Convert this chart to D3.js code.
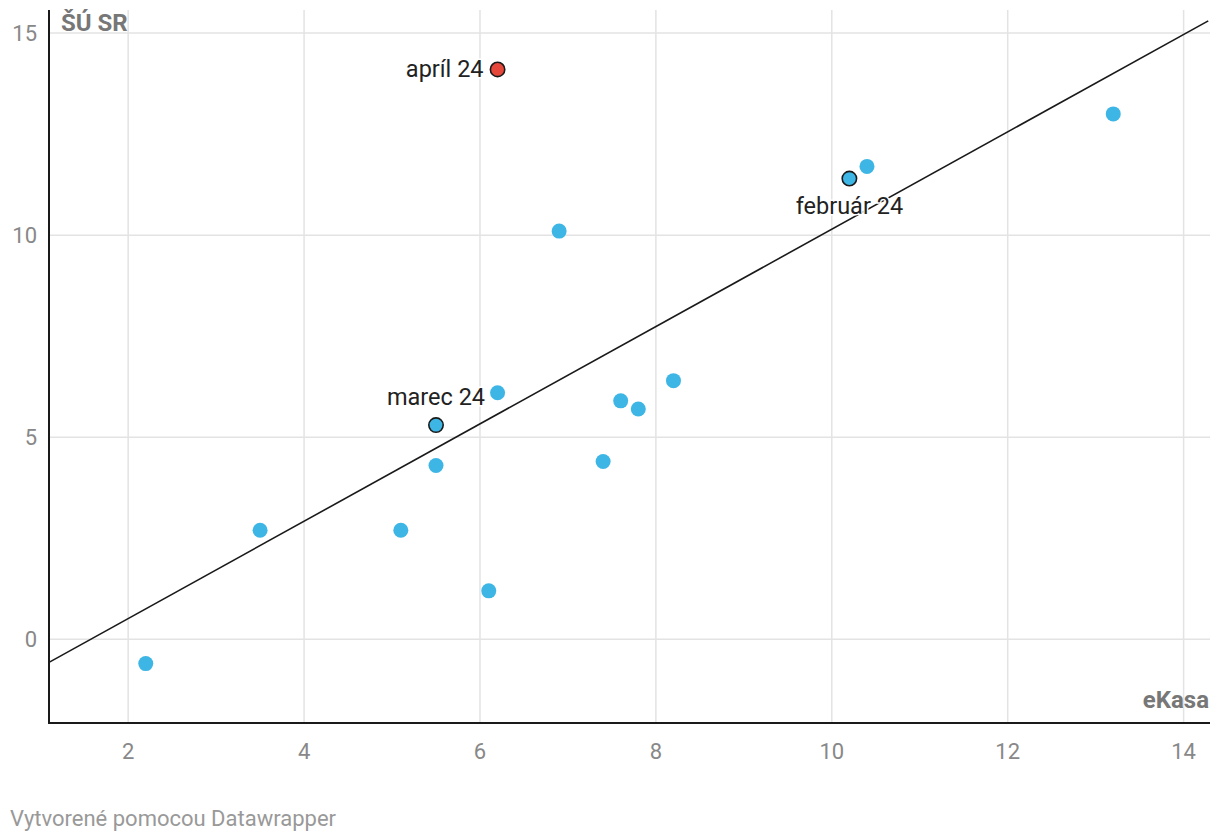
<!DOCTYPE html>
<html><head><meta charset="utf-8">
<script src="https://cdn.jsdelivr.net/npm/d3@7"></script>
<style>
body{margin:0;background:#fff;font-family:Roboto,sans-serif;}
</style></head>
<body><svg id="c" width="1220" height="840"></svg>
<script>
const xVals = [2.2, 3.5, 5.1, 5.5, 5.5, 6.1, 6.2, 6.2, 6.9, 7.4, 7.6, 7.8, 8.2, 10.2, 10.4, 13.2];
const yVals = [-0.6, 2.7, 2.7, 4.3, 5.3, 1.2, 6.1, 14.1, 10.1, 4.4, 5.9, 5.7, 6.4, 11.4, 11.7, 13.0];
const pointLabels = ["", "", "", "", "marec 24", "", "", "apríl 24", "", "", "", "", "", "február 24", "", ""];
const highlight = ["", "", "", "", "blue", "", "", "red", "", "", "", "", "", "blue", "", ""];
const xTicks = [2, 4, 6, 8, 10, 12, 14];
const yTicks = [0, 5, 10, 15];
const trendX = [1.1, 14.28];
const trendY = [-0.57, 15.30];

const svg = d3.select("#c");
const x = d3.scaleLinear().domain([1.1, 14.3]).range([49, 1210]);
const y = d3.scaleLinear().domain([-2.07, 15.57]).range([723, 10]);

// grid
svg.append("g").selectAll("line").data(xTicks).join("line")
  .attr("x1", d => x(d)).attr("x2", d => x(d)).attr("y1", 10).attr("y2", 723)
  .attr("stroke", "#e3e3e3").attr("stroke-width", 1.5);
svg.append("g").selectAll("line").data(yTicks).join("line")
  .attr("x1", 49).attr("x2", 1210).attr("y1", d => y(d)).attr("y2", d => y(d))
  .attr("stroke", "#e3e3e3").attr("stroke-width", 1.5);

// tick labels
svg.append("g").selectAll("text").data(xTicks).join("text")
  .attr("x", d => x(d)).attr("y", 759).attr("text-anchor", "middle")
  .attr("font-size", 22).attr("fill", "#888").text(d => d);
svg.append("g").selectAll("text").data(yTicks).join("text")
  .attr("x", 37).attr("y", d => y(d) + 8).attr("text-anchor", "end")
  .attr("font-size", 22).attr("fill", "#888").text(d => d);

// trend line
svg.append("line")
  .attr("x1", x(trendX[0])).attr("y1", y(trendY[0]))
  .attr("x2", x(trendX[1])).attr("y2", y(trendY[1]))
  .attr("stroke", "#1a1a1a").attr("stroke-width", 1.6);

// axes lines
svg.append("line").attr("x1", 49).attr("x2", 49).attr("y1", 10).attr("y2", 724)
  .attr("stroke", "#1a1a1a").attr("stroke-width", 2);
svg.append("line").attr("x1", 48).attr("x2", 1210).attr("y1", 723).attr("y2", 723)
  .attr("stroke", "#1a1a1a").attr("stroke-width", 2);

// axis titles
svg.append("text").attr("x", 61).attr("y", 31).attr("font-size", 24).attr("font-weight", "bold")
  .attr("fill", "#777").text("ŠÚ SR");
svg.append("text").attr("x", 1209).attr("y", 708).attr("text-anchor", "end").attr("font-size", 24)
  .attr("font-weight", "bold").attr("fill", "#777").text("eKasa");

// points
const data = xVals.map((v, i) => ({x: v, y: yVals[i], label: pointLabels[i], hl: highlight[i]}));
svg.append("g").selectAll("circle").data(data.filter(d => !d.hl)).join("circle")
  .attr("cx", d => x(d.x)).attr("cy", d => y(d.y)).attr("r", 7.5).attr("fill", "#3eb6e5");
svg.append("g").selectAll("circle").data(data.filter(d => d.hl)).join("circle")
  .attr("cx", d => x(d.x)).attr("cy", d => y(d.y)).attr("r", 7.2)
  .attr("fill", d => d.hl === "red" ? "#e5483a" : "#3eb6e5")
  .attr("stroke", "#1a1a1a").attr("stroke-width", 1.6);

// labels
const labelPos = {
  "apríl 24": {dx: -14, dy: 8, anchor: "end"},
  "marec 24": {dx: 0, dy: -20, anchor: "middle"},
  "február 24": {dx: 0, dy: 35, anchor: "middle"}
};
svg.append("g").selectAll("text").data(data.filter(d => d.label)).join("text")
  .attr("x", d => x(d.x) + labelPos[d.label].dx)
  .attr("y", d => y(d.y) + labelPos[d.label].dy)
  .attr("text-anchor", d => labelPos[d.label].anchor)
  .attr("font-size", 23.5).attr("fill", "#222")
  .attr("stroke", "#fff").attr("stroke-width", 3).attr("paint-order", "stroke")
  .text(d => d.label);

// footer
svg.append("text").attr("x", 10).attr("y", 826).attr("font-size", 22).attr("fill", "#999")
  .text("Vytvorené pomocou Datawrapper");
</script></body></html>
